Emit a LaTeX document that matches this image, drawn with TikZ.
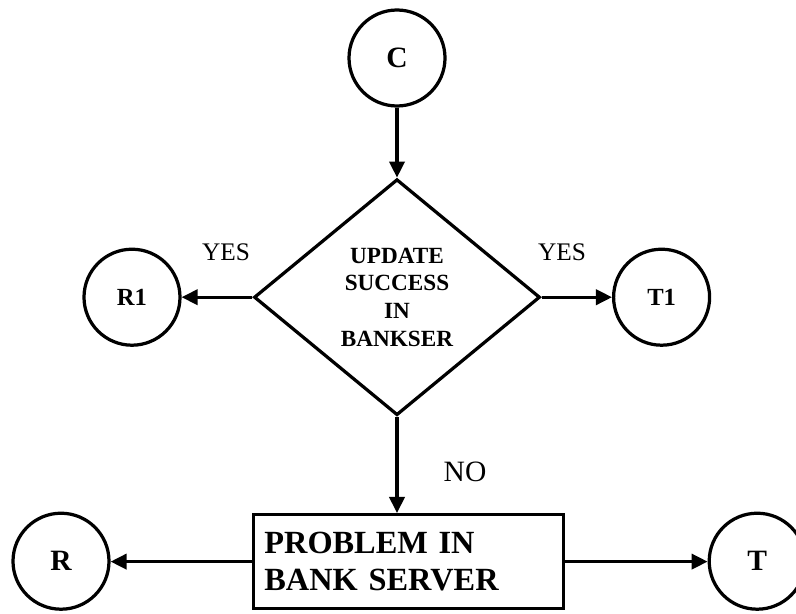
\documentclass[tikz,border=0pt]{standalone}
\usepackage{fontspec}
\setmainfont{Liberation Serif}
\usepackage{tikz}
\usetikzlibrary{arrows.meta}
\usetikzlibrary{shapes.geometric, positioning, calc}

\tikzset{
  conn/.style={circle, draw, line width=2.3pt, minimum size=2.4cm, inner sep=0pt, font=\fontsize{21}{24}\selectfont\bfseries},
  connsm/.style={conn, font=\fontsize{17.5}{20}\selectfont\bfseries},
  decision/.style={diamond, draw, line width=2.3pt, minimum width=7.15cm, minimum height=5.9cm, inner sep=0pt, align=center, font=\fontsize{16.5}{19.6}\selectfont\bfseries},
  block/.style={rectangle, draw, line width=2.3pt, minimum width=7.75cm, minimum height=2.35cm, align=left, text width=7.2cm, inner sep=0pt, font=\fontsize{23}{26.2}\selectfont\bfseries},
  lbl/.style={font=\fontsize{18}{20}\selectfont}
}

\begin{document}
\begin{tikzpicture}[>={Triangle[length=4mm,width=3.8mm]}, line width=2.3pt]
      \useasboundingbox (0, 0) rectangle (19.9, -15.325);

      \node[conn] (c) at (9.925, -1.45) {C};
      \node[decision] (upd) at (9.925, -7.43) {UPDATE\\SUCCESS\\IN\\BANKSER};
      \node[connsm] (r1) at (3.3, -7.43) {R1};
      \node[connsm] (t1) at (16.54, -7.43) {T1};
      \node[block] (prob) at (10.21, -14.04) {PROBLEM IN\\BANK SERVER};
      \node[conn] (r) at (1.525, -14.03) {R};
      \node[conn] (t) at (18.93, -14.03) {T};

      \draw[->] (c) -- (upd.north);
      \draw[->] (upd.west) -- (r1);
      \draw[->] (upd.east) -- (t1);
      \draw[->] (upd.south) -- (upd.south |- prob.north);
      \draw[->] (prob.west) -- (prob.west -| r.east);
      \draw[->] (prob.east) -- (prob.east -| t.west);

      \node[lbl] (yesl) at (5.65, -6.3) {YES};
      \node[lbl] (yesr) at (14.05, -6.3) {YES};
      \node[lbl, font=\fontsize{21}{24}\selectfont] (no) at (11.625, -11.8) {NO};

    \end{tikzpicture}
\end{document}
